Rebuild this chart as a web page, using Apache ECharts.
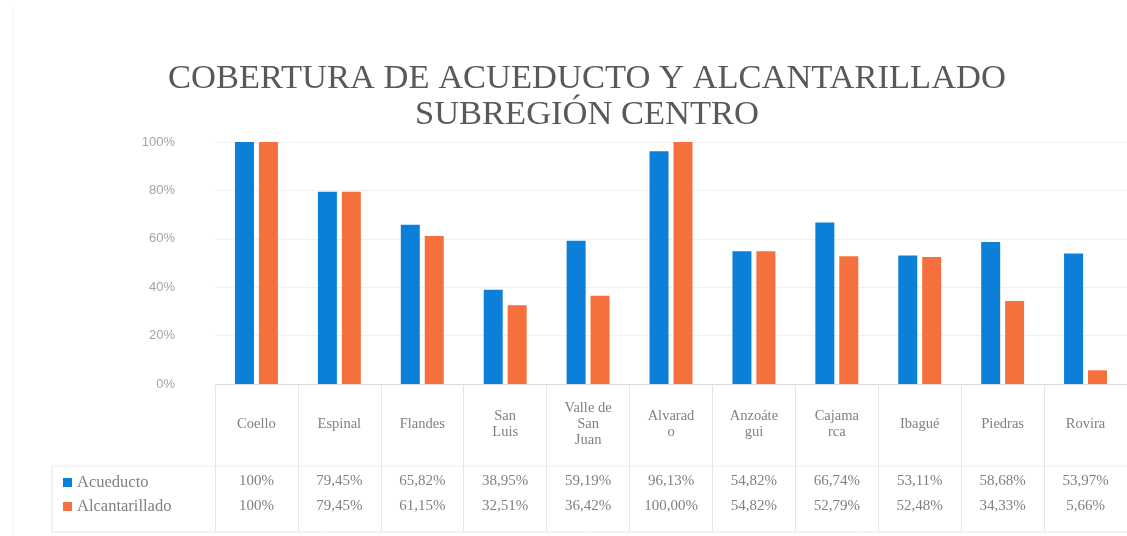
<!DOCTYPE html>
<html>
<head>
<meta charset="utf-8">
<script src="https://cdn.jsdelivr.net/npm/echarts@6/dist/echarts.min.js"></script>
<style>
html,body{margin:0;padding:0;background:#fff;}
#chart{width:1127px;height:536px;}
</style>
</head>
<body>
<div id="chart"></div>
<script>
// ---- data ----
const categories = ['Coello', 'Espinal', 'Flandes', 'San\nLuis', 'Valle de\nSan\nJuan', 'Alvarad\no', 'Anzoáte\ngui', 'Cajama\nrca', 'Ibagué', 'Piedras', 'Rovira'];
const acueducto = [100, 79.45, 65.82, 38.95, 59.19, 96.13, 54.82, 66.74, 53.11, 58.68, 53.97];
const alcantarillado = [100, 79.45, 61.15, 32.51, 36.42, 100, 54.82, 52.79, 52.48, 34.33, 5.66];
const acueductoLabels = ['100%', '79,45%', '65,82%', '38,95%', '59,19%', '96,13%', '54,82%', '66,74%', '53,11%', '58,68%', '53,97%'];
const alcantarilladoLabels = ['100%', '79,45%', '61,15%', '32,51%', '36,42%', '100,00%', '54,82%', '52,79%', '52,48%', '34,33%', '5,66%'];
const seriesNames = ['Acueducto', 'Alcantarillado'];
const titleLines = ['COBERTURA DE ACUEDUCTO Y ALCANTARILLADO', 'SUBREGIÓN CENTRO'];

const BLUE = '#0c7fd8';
const ORANGE = '#f6703d';
const SERIF = "'Liberation Serif', serif";

const chart = echarts.init(document.getElementById('chart'));
const gridLeft = 215, gridTop = 142, gridW = 918, gridH = 242;

chart.setOption({
  animation: false,
  backgroundColor: '#ffffff',
  title: {
    text: titleLines.join('\n'),
    left: 582,
    textAlign: 'center',
    top: 56,
    textStyle: { fontFamily: SERIF, fontSize: 34.5, fontWeight: 'normal', color: '#595959', lineHeight: 36 }
  },
  legend: {
    orient: 'vertical',
    left: 58,
    top: 469,
    itemWidth: 9,
    itemHeight: 9,
    itemGap: 7,
    icon: 'rect',
    data: seriesNames,
    textStyle: { fontFamily: SERIF, fontSize: 16.5, color: '#808080' }
  },
  grid: { left: gridLeft, top: gridTop, width: gridW, height: gridH, containLabel: false },
  xAxis: [
    {
      type: 'category', data: categories, position: 'bottom',
      axisLine: { show: true, lineStyle: { color: '#dcdcdc' } },
      axisTick: { show: true, length: 148, interval: 0, lineStyle: { color: '#e6e6e6' } },
      axisLabel: { interval: 0, margin: 40, verticalAlign: 'middle', fontFamily: SERIF, fontSize: 14.5, lineHeight: 16, color: '#7f7f7f' }
    },
    {
      type: 'category', data: acueductoLabels, position: 'bottom', offset: 97,
      axisLine: { show: false }, axisTick: { show: false },
      axisLabel: { interval: 0, margin: 0, verticalAlign: 'middle', fontFamily: SERIF, fontSize: 15, color: '#808080' }
    },
    {
      type: 'category', data: alcantarilladoLabels, position: 'bottom', offset: 122,
      axisLine: { show: false }, axisTick: { show: false },
      axisLabel: { interval: 0, margin: 0, verticalAlign: 'middle', fontFamily: SERIF, fontSize: 15, color: '#808080' }
    }
  ],
  yAxis: {
    type: 'value', min: 0, max: 100, interval: 20,
    axisLine: { show: false }, axisTick: { show: false },
    axisLabel: { formatter: '{value}%', margin: 40, fontFamily: "'Liberation Sans', sans-serif", fontSize: 13, color: '#a3a3a3' },
    splitLine: { lineStyle: { color: '#f0f0f0' } }
  },
  series: [
    { name: seriesNames[0], type: 'bar', xAxisIndex: 0, data: acueducto, barWidth: 19, barGap: '26%', itemStyle: { color: BLUE } },
    { name: seriesNames[1], type: 'bar', xAxisIndex: 0, data: alcantarillado, barWidth: 19, barGap: '26%', itemStyle: { color: ORANGE } }
  ],
  graphic: [
    { type: 'line', shape: { x1: 52, y1: 466, x2: 1127, y2: 466 }, style: { stroke: '#ececec', lineWidth: 1 }, silent: true },
    { type: 'line', shape: { x1: 52, y1: 532, x2: 1127, y2: 532 }, style: { stroke: '#e4e4e4', lineWidth: 1 }, silent: true },
    { type: 'line', shape: { x1: 52, y1: 466, x2: 52, y2: 532 }, style: { stroke: '#e4e4e4', lineWidth: 1 }, silent: true },
    { type: 'line', shape: { x1: 13, y1: 6, x2: 13, y2: 536 }, style: { stroke: '#f0f0f0', lineWidth: 1 }, silent: true }
  ]
});
</script>
</body>
</html>
